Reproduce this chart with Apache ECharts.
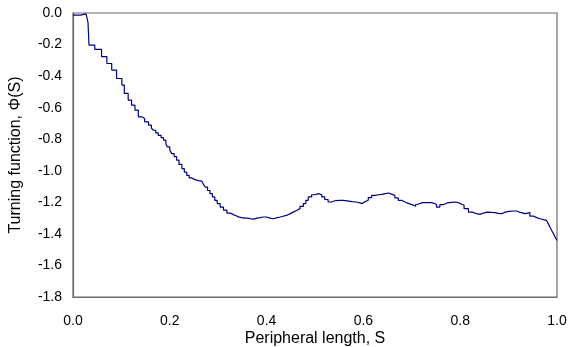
<!DOCTYPE html>
<html>
<head>
<meta charset="utf-8">
<script src="https://cdn.jsdelivr.net/npm/echarts@6/dist/echarts.min.js"></script>
<style>
  html, body { margin: 0; padding: 0; background: #fff; }
  #turning-chart { width: 570px; height: 347px; }
</style>
</head>
<body>
<div id="turning-chart"></div>
<script>
// peripheral length S and turning function values
var sValues = [
  0.000, 0.015, 0.027, 0.031, 0.032, 0.033, 0.045, 0.059, 0.070, 0.080,
  0.090, 0.101, 0.106, 0.114, 0.121, 0.128, 0.135, 0.142, 0.148, 0.156,
  0.162, 0.166, 0.171, 0.176, 0.182, 0.187, 0.192, 0.195, 0.200, 0.204,
  0.209, 0.214, 0.219, 0.225, 0.230, 0.235, 0.240, 0.245, 0.252, 0.259,
  0.266, 0.270, 0.273, 0.278, 0.283, 0.288, 0.293, 0.298, 0.304, 0.311,
  0.318, 0.325, 0.331, 0.337, 0.342, 0.348, 0.355, 0.360, 0.366, 0.373,
  0.380, 0.387, 0.393, 0.400, 0.407, 0.414, 0.421, 0.428, 0.434, 0.441,
  0.448, 0.455, 0.462, 0.469, 0.476, 0.481, 0.486, 0.493, 0.500, 0.507,
  0.514, 0.520, 0.527, 0.534, 0.541, 0.550, 0.558, 0.567, 0.576, 0.585,
  0.593, 0.598, 0.603, 0.610, 0.617, 0.624, 0.631, 0.638, 0.645, 0.652,
  0.658, 0.665, 0.672, 0.679, 0.686, 0.694, 0.703, 0.708, 0.713, 0.722,
  0.731, 0.741, 0.751, 0.758, 0.765, 0.773, 0.782, 0.791, 0.800, 0.808,
  0.817, 0.825, 0.834, 0.841, 0.848, 0.856, 0.865, 0.872, 0.879, 0.886,
  0.893, 0.901, 0.910, 0.917, 0.924, 0.934, 0.944, 0.951, 0.958, 0.965,
  0.972, 0.978, 0.982, 0.986, 0.989, 0.993, 0.996, 1.000
];
var phiValues = [
  -0.013, -0.006, 0.000, -0.060, -0.130, -0.203, -0.230, -0.277, -0.320, -0.362,
  -0.415, -0.457, -0.510, -0.552, -0.584, -0.616, -0.658, -0.669, -0.690, -0.711,
  -0.730, -0.743, -0.760, -0.775, -0.790, -0.806, -0.830, -0.849, -0.870, -0.891,
  -0.910, -0.933, -0.960, -0.986, -1.008, -1.029, -1.045, -1.056, -1.062, -1.065,
  -1.071, -1.088, -1.103, -1.125, -1.145, -1.166, -1.187, -1.208, -1.230, -1.250,
  -1.268, -1.278, -1.285, -1.292, -1.297, -1.300, -1.300, -1.303, -1.306, -1.300,
  -1.297, -1.293, -1.293, -1.300, -1.304, -1.298, -1.293, -1.288, -1.283, -1.273,
  -1.262, -1.252, -1.240, -1.225, -1.208, -1.187, -1.166, -1.152, -1.145, -1.152,
  -1.166, -1.182, -1.198, -1.190, -1.187, -1.188, -1.191, -1.196, -1.198, -1.203,
  -1.208, -1.196, -1.187, -1.170, -1.156, -1.152, -1.149, -1.145, -1.141, -1.148,
  -1.156, -1.172, -1.187, -1.198, -1.208, -1.218, -1.225, -1.212, -1.202, -1.202,
  -1.202, -1.212, -1.230, -1.215, -1.204, -1.200, -1.198, -1.207, -1.219, -1.240,
  -1.262, -1.272, -1.276, -1.268, -1.262, -1.264, -1.265, -1.270, -1.272, -1.262,
  -1.257, -1.255, -1.255, -1.264, -1.272, -1.265, -1.287, -1.297, -1.304, -1.310,
  -1.314, -1.325, -1.335, -1.360, -1.378, -1.400, -1.420, -1.441
];

var xMin = 0, xMax = 1, xStep = 0.2;
var yMin = -1.8, yMax = 0, yStep = 0.2;

var points = sValues.map(function (s, i) { return [s, phiValues[i]]; });

var labelFont = { color: '#000', fontFamily: 'Liberation Sans, Arial, sans-serif', fontSize: 14 };
var nameFont = { color: '#000', fontFamily: 'Liberation Sans, Arial, sans-serif', fontSize: 16 };

var chart = echarts.init(document.getElementById('turning-chart'));
chart.setOption({
  animation: false,
  backgroundColor: '#fff',
  grid: {
    left: 73, right: 13, top: 13, bottom: 50,
    outerBoundsMode: 'none',
    containLabel: false,
    show: true, borderColor: '#6a6a6a', borderWidth: 1.2
  },
  xAxis: {
    type: 'value',
    min: xMin, max: xMax, interval: xStep,
    name: 'Peripheral length, S',
    nameLocation: 'middle',
    nameGap: 34,
    nameMoveOverlap: false,
    nameTextStyle: nameFont,
    axisLine: { show: true, onZero: false, lineStyle: { color: '#6a6a6a', width: 1.2 } },
    axisTick: { show: false },
    splitLine: { show: false },
    axisLabel: Object.assign({ margin: 17, formatter: function (v) { return v.toFixed(1); } }, labelFont)
  },
  yAxis: {
    type: 'value',
    min: yMin, max: yMax, interval: yStep,
    name: 'Turning function, Φ(S)',
    nameLocation: 'middle',
    nameGap: 49,
    nameMoveOverlap: false,
    nameTextStyle: nameFont,
    axisLine: { show: true, onZero: false, lineStyle: { color: '#6a6a6a', width: 1.2 } },
    axisTick: { show: false },
    splitLine: { show: false },
    axisLabel: Object.assign({ margin: 11, formatter: function (v) { return v.toFixed(1); } }, labelFont)
  },
  series: [{
    type: 'line',
    data: points,
    step: 'end',
    showSymbol: false,
    lineStyle: { color: '#000080', width: 1.2 }
  }]
});
</script>
</body>
</html>
